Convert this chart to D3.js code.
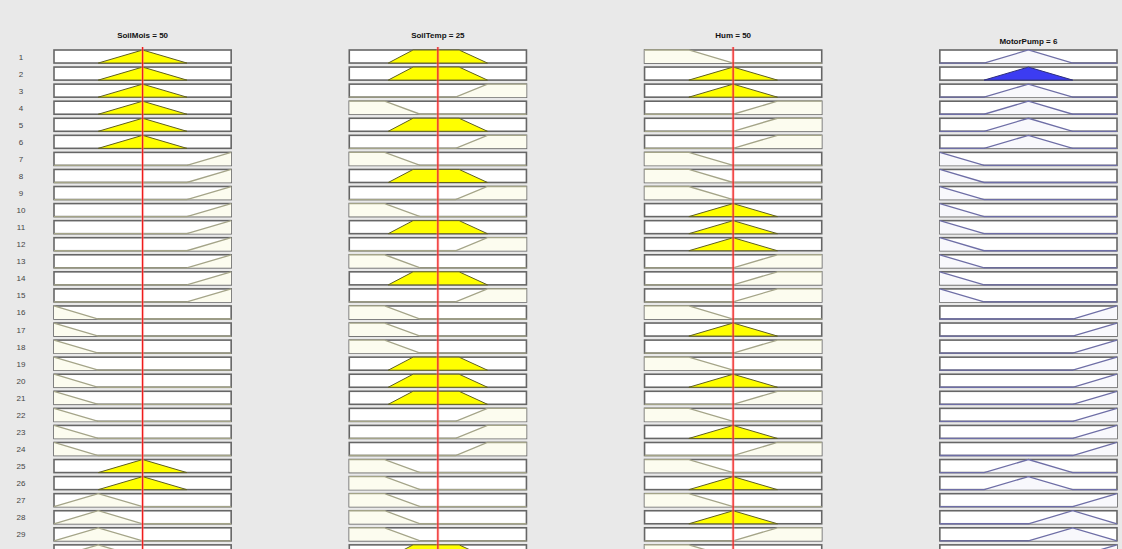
<!DOCTYPE html>
<html><head><meta charset="utf-8">
<script src="https://cdn.jsdelivr.net/npm/d3@7"></script>
<style>html,body{margin:0;padding:0;background:#e9e9e9;} svg{display:block;}</style>
</head><body>
<svg id="chart" width="1122" height="549"></svg>
<script>
// ---- data ----
const variables = ["SoilMois", "SoilTemp", "Hum", "MotorPump"];
const varRanges = [[0, 100], [0, 50], [0, 100], [0, 12]];
const varValues = [50, 25, 50, 6];
const isOutput = [false, false, false, true];
const ruleNumbers = d3.range(1, 31);

// membership functions as trapezoids [a, b, c, d]
const soilMoisMFs = { dry: [0, 0, 0, 25], lowmed: [0, 25, 25, 50], medium: [25, 50, 50, 75], wet: [75, 100, 100, 100] };
const soilTempMFs = { cold: [0, 0, 10, 20], normal: [11, 18, 31, 39], hot: [30, 39, 50, 50] };
const humMFs = { low: [0, 0, 25, 50], medium: [25, 50, 50, 75], high: [50, 75, 100, 100] };
const motorPumpMFs = { off: [0, 0, 0, 3], medium: [3, 6, 6, 9], medhigh: [6, 9, 9, 12], high: [9, 12, 12, 12] };
const mfSets = [soilMoisMFs, soilTempMFs, humMFs, motorPumpMFs];

// rule table (one MF name per rule, per variable)
const ruleSoilMois = ["medium","medium","medium","medium","medium","medium",
  "wet","wet","wet","wet","wet","wet","wet","wet","wet",
  "dry","dry","dry","dry","dry","dry","dry","dry","dry",
  "medium","medium","lowmed","lowmed","lowmed","lowmed"];
const ruleSoilTemp = ["normal","normal","hot","cold","normal","hot",
  "cold","normal","hot","cold","normal","hot","cold","normal","hot",
  "cold","cold","cold","normal","normal","normal","hot","hot","hot",
  "cold","cold","cold","cold","cold","normal"];
const ruleHum = ["low","medium","medium","high","high","high",
  "low","low","low","medium","medium","medium","high","high","high",
  "low","medium","high","low","medium","high","low","medium","high",
  "low","medium","low","medium","high","low"];
const ruleMotorPump = ["medium","medium","medium","medium","medium","medium",
  "off","off","off","off","off","off","off","off","off",
  "high","high","high","high","high","high","high","high","high",
  "medium","medium","high","medhigh","medhigh","high"];
const ruleColumns = [ruleSoilMois, ruleSoilTemp, ruleHum, ruleMotorPump];

// ---- helpers ----
function trap(x, p) {
  const [a, b, c, d] = p;
  const left = (b === a) ? (x >= a ? 1 : 0) : (x - a) / (b - a);
  const right = (d === c) ? (x <= d ? 1 : 0) : (d - x) / (d - c);
  return Math.max(0, Math.min(left, 1, right));
}

// ---- layout ----
const svg = d3.select("#chart");
svg.append("rect").attr("width", 1122).attr("height", 549).attr("fill", "#e9e9e9");

const rowStep = 16.93;
const colScale = d3.scaleBand().domain(variables).range([54, 1117]).paddingInner(0.4).paddingOuter(0);
const rowScale = d3.scaleBand().domain(ruleNumbers).range([50, 50 + 30 * rowStep]).paddingInner(4 / rowStep).paddingOuter(0);
const yMu = d3.scaleLinear().domain([0, 1]).range([rowScale.bandwidth(), 0]);

// firing strengths
const firing = ruleNumbers.map((r, i) => d3.min([0, 1, 2].map(v => trap(varValues[v], mfSets[v][ruleColumns[v][i]]))));

// row labels
svg.append("g").selectAll("text").data(ruleNumbers).join("text")
  .attr("x", 21).attr("y", d => rowScale(d) + rowScale.bandwidth() / 2 + 3)
  .attr("text-anchor", "middle").attr("font-family", "Liberation Sans, Arial, sans-serif")
  .attr("font-size", 8).attr("fill", "#444").text(d => d);

variables.forEach((v, vi) => {
  const x = d3.scaleLinear().domain(varRanges[vi]).range([colScale(v), colScale(v) + colScale.bandwidth()]);
  const g = svg.append("g");
  // title
  g.append("text").attr("x", x(d3.mean(varRanges[vi])))
    .attr("y", isOutput[vi] ? 44 : 38).attr("text-anchor", "middle")
    .attr("font-family", "Liberation Sans, Arial, sans-serif").attr("font-size", 8).attr("font-weight", "bold")
    .attr("fill", "#111").text(`${v} = ${varValues[vi]}`);

  ruleNumbers.forEach((r, i) => {
    const gy = g.append("g").attr("transform", `translate(0,${rowScale(r)})`);
    gy.append("rect").attr("x", x.range()[0]).attr("y", 0)
      .attr("width", colScale.bandwidth()).attr("height", rowScale.bandwidth())
      .attr("fill", "#ffffff").attr("stroke", "#666666").attr("stroke-width", 1.6);
    const p = mfSets[vi][ruleColumns[vi][i]];
    const [lo, hi] = varRanges[vi];
    const xs = Array.from(new Set([lo, ...p, hi])).sort((a, b) => a - b);
    const pts = xs.map(xx => [x(xx), yMu(trap(xx, p))]);
    const line = d3.line();
    const mu = isOutput[vi] ? firing[i] : trap(varValues[vi], p);
    // light tint under curve
    gy.append("path").attr("d", line([[x(lo), yMu(0)], ...pts, [x(hi), yMu(0)]]))
      .attr("fill", isOutput[vi] ? "#f8f8fc" : "#fcfcef").attr("stroke", "none");
    if (mu > 0) {
      const [a, b, c, d] = p;
      const clip = [[x(a), yMu(0)], [x(a + (b - a) * mu), yMu(mu)], [x(d - (d - c) * mu), yMu(mu)], [x(d), yMu(0)]];
      gy.append("path").attr("d", line(clip) + "Z")
        .attr("fill", isOutput[vi] ? "#3c3cf2" : "#ffff00")
        .attr("stroke", isOutput[vi] ? "#30307a" : "#5e5e22").attr("stroke-width", 1);
    } else {
      gy.append("path").attr("d", line(pts)).attr("fill", "none")
        .attr("stroke", isOutput[vi] ? "#6e6ea6" : "#a4a488").attr("stroke-width", 1.3);
    }
  });

  if (!isOutput[vi]) {
    g.append("line").attr("x1", x(varValues[vi])).attr("x2", x(varValues[vi]))
      .attr("y1", 47).attr("y2", 549).attr("stroke", "#ff9090").attr("stroke-width", 3).attr("opacity", 0.45);
    g.append("line").attr("x1", x(varValues[vi])).attr("x2", x(varValues[vi]))
      .attr("y1", 47).attr("y2", 549).attr("stroke", "#ee1c1c").attr("stroke-width", 1.2);
  }
});
</script>
</body></html>
